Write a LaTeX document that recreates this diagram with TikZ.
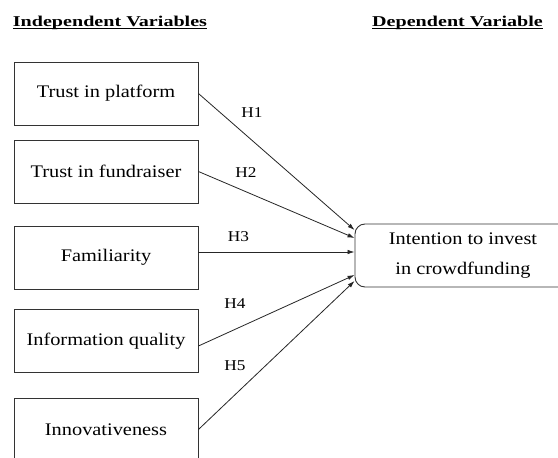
\documentclass[tikz,border=0pt]{standalone}
\usepackage{fontspec}
\setmainfont{Liberation Serif}
\usepackage{graphicx}
\usetikzlibrary{arrows.meta}
\newsavebox\ulbox
\newcommand\myul[1]{\sbox\ulbox{#1}\rlap{\rule[-2.2pt]{\wd\ulbox}{0.9pt}}\usebox\ulbox}
\newcommand\hs[1]{\scalebox{1.15}[1]{#1}}
\begin{document}
\begin{tikzpicture}[x=1pt,y=-1pt,
  ivbox/.style={draw=black!80, line width=0.9pt, minimum width=184pt, minimum height=63pt, inner sep=0pt, font=\fontsize{17.7}{21}\selectfont},
  dvbox/.style={draw=black!80, line width=0.9pt, rounded corners=10pt, minimum width=216pt, minimum height=63pt, inner sep=0pt, align=center, font=\fontsize{17.7}{30}\selectfont},
  hyp/.style={font=\fontsize{15}{18}\selectfont, inner sep=0pt},
  link/.style={draw=black!85, line width=0.8pt, -{Latex[length=7pt,width=4.5pt]}},
  heading/.style={anchor=base west, inner sep=0pt, font=\fontsize{15}{18}\selectfont\bfseries}
]
\fill[white] (0,0) rectangle (558,458);
\useasboundingbox (0,0) rectangle (558,458);
\clip (0,0) rectangle (558,458);

\node[heading] (t1) at (12.7,26.7) {\scalebox{1.34}[1]{\myul{Independent Variables}}};
\node[heading] (t2) at (372,26.7) {\scalebox{1.34}[1]{\myul{Dependent Variable}}};

\node[ivbox] (b1) at (106,93.5) {\hs{Trust in platform}};
\node[ivbox] (b2) at (106,171.5) {\hs{Trust in fundraiser}};
\node[ivbox] (b3) at (106,257.5) {\hs{Familiarity}};
\node[ivbox] (b4) at (106,341) {\hs{Information quality}};
\node[ivbox] (b5) at (106,429.5) {\hs{Innovativeness}};

\node[dvbox] (dv) at (463,255.5) {\hs{Intention to invest}\\\hs{in crowdfunding}};

\node[hyp] (h1) at (252,113) {\hs{H1}};
\node[hyp] (h2) at (246,173) {\hs{H2}};
\node[hyp] (h3) at (238.5,236.5) {\hs{H3}};
\node[hyp] (h4) at (235,304) {\hs{H4}};
\node[hyp] (h5) at (235,366) {\hs{H5}};

\draw[link] (b1.east) -- ([yshift=25.5pt]dv.west);
\draw[link] (b2.east) -- ([yshift=17.5pt]dv.west);
\draw[link] ([yshift=5.5pt]b3.east) -- ([yshift=3.5pt]dv.west);
\draw[link] ([yshift=-5pt]b4.east) -- ([yshift=-19.5pt]dv.west);
\draw[link] (b5.east) -- ([yshift=-25.5pt]dv.west);
\end{tikzpicture}
\end{document}
